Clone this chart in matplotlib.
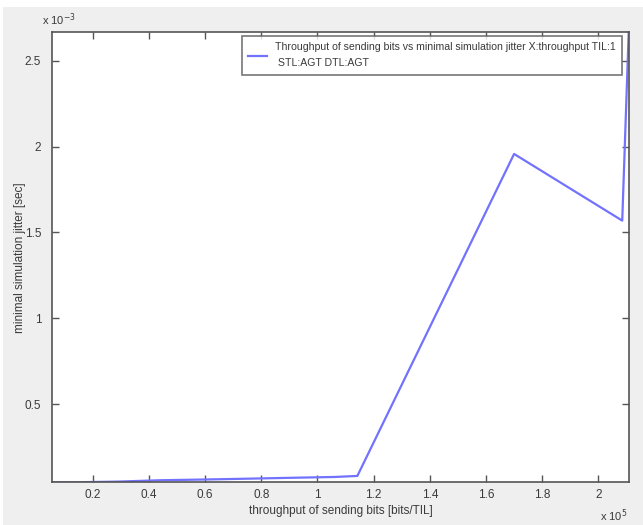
import matplotlib
matplotlib.use("Agg")
import matplotlib.pyplot as plt
from matplotlib.patches import Rectangle

# data (x in units of 1e5 bits/TIL, y in units of 1e-3 sec)
throughput_e5 = [0.056, 0.13, 0.29, 0.44, 0.59, 0.75, 0.90, 1.06, 1.142, 1.70, 2.085, 2.108]
jitter_e3 = [0.046, 0.046, 0.050, 0.058, 0.062, 0.067, 0.072, 0.077, 0.083, 1.957, 1.569, 2.665]
x_ticks = [0.2, 0.4, 0.6, 0.8, 1.0, 1.2, 1.4, 1.6, 1.8, 2.0]
x_tick_labels = ["0.2", "0.4", "0.6", "0.8", "1", "1.2", "1.4", "1.6", "1.8", "2"]
y_ticks = [0.5, 1.0, 1.5, 2.0, 2.5]
y_tick_labels = ["0.5", "1", "1.5", "2", "2.5"]
legend_label = "Throughput of sending bits vs minimal simulation jitter X:throughput TIL:1\n STL:AGT DTL:AGT"

plt.rcParams['font.family'] = ['Liberation Sans', 'DejaVu Sans']
txt = '#3a3a3a'

fig = plt.figure(figsize=(6.43, 5.25), dpi=100, facecolor='#efefef')
fig.patches.append(Rectangle((0, 1 - 7 / 525), 1, 7 / 525, transform=fig.transFigure,
                             facecolor='white', edgecolor='none', zorder=-1))
fig.patches.append(Rectangle((0, 0), 3 / 643, 1, transform=fig.transFigure,
                             facecolor='white', edgecolor='none', zorder=-1))

ax = fig.add_axes([52.3 / 643, (525 - 482.3) / 525, 576.4 / 643, 450 / 525])
ax.set_facecolor('white')
ax.plot(throughput_e5, jitter_e3, color='#7272ff', lw=1.6, label=legend_label)

ax.set_xlim(min(throughput_e5), max(throughput_e5))
ax.set_ylim(min(jitter_e3), max(jitter_e3))
ax.set_xticks(x_ticks)
ax.set_xticklabels(x_tick_labels)
ax.set_yticks(y_ticks)
ax.set_yticklabels(y_tick_labels)
ax.tick_params(direction='in', length=5, width=1, color='#555555', labelcolor=txt,
               labelsize=8.5, top=True, right=True)
ax.tick_params(axis='x', pad=5)
ax.tick_params(axis='y', pad=8)
for s in ax.spines.values():
    s.set_color('#555555')
    s.set_linewidth(1.2)

ax.set_xlabel("throughput of sending bits [bits/TIL]", fontsize=8.5, color=txt, labelpad=3)
ax.set_ylabel("minimal simulation jitter [sec]", fontsize=8.5, color=txt, labelpad=-1)

fig.text(42 / 643, 1 - 20 / 525, r"x 10$^{-3}$", fontsize=8, color=txt, va='center', ha='left')
fig.text(600 / 643, 1 - 516 / 525, r"x 10$^{5}$", fontsize=8, color=txt, va='center', ha='left')

lprop = {'family': ['Liberation Sans', 'DejaVu Sans'], 'size': 7.6}
leg = ax.legend(loc='upper right', bbox_to_anchor=(621.7 / 643, 1 - 36 / 525),
                bbox_transform=fig.transFigure, prop=lprop, frameon=True, fancybox=False,
                handlelength=1.8, handletextpad=0.7, borderpad=0.6, borderaxespad=0,
                labelspacing=0.4)
leg.get_frame().set_edgecolor('#555555')
leg.get_frame().set_linewidth(1.2)
for t in leg.get_texts():
    t.set_color(txt)
    t.set_linespacing(1.75)

fig.savefig("out.png", dpi=100, facecolor=fig.get_facecolor())
